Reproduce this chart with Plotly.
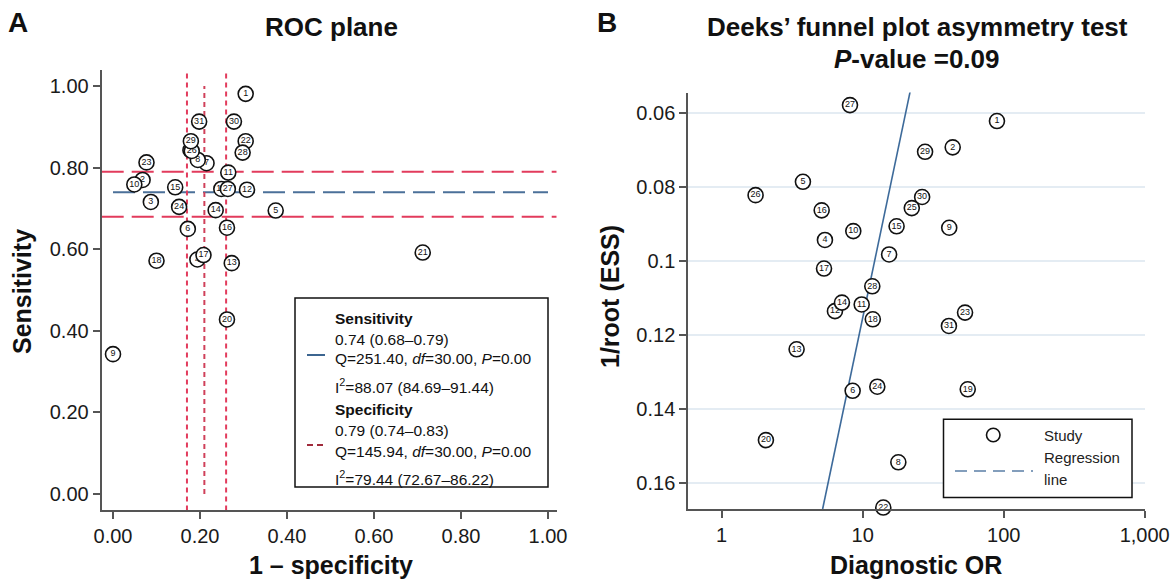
import math
import plotly.graph_objects as go

W, H = 1172, 579

# ---------------- Panel A: ROC plane ----------------
study_ids = list(range(1, 32))
one_minus_spec = [0.305, 0.068, 0.087, 0.194, 0.374, 0.172, 0.215, 0.195, 0.000, 0.049,
                  0.265, 0.308, 0.273, 0.236, 0.143, 0.262, 0.208, 0.100, 0.249, 0.262,
                  0.712, 0.305, 0.077, 0.152, 0.178, 0.181, 0.264, 0.298, 0.179, 0.278,
                  0.198]
sensitivity = [0.981, 0.770, 0.716, 0.575, 0.695, 0.650, 0.811, 0.819, 0.343, 0.759,
               0.788, 0.746, 0.566, 0.696, 0.752, 0.653, 0.586, 0.572, 0.748, 0.428,
               0.592, 0.865, 0.813, 0.704, 0.843, 0.841, 0.748, 0.837, 0.865, 0.913,
               0.913]
sens_pooled = [0.74, 0.68, 0.79]      # estimate, lower, upper
spec_pooled = [0.79, 0.74, 0.83]
roc_ticks = [0.0, 0.2, 0.4, 0.6, 0.8, 1.0]
roc_ticktext = ["0.00", "0.20", "0.40", "0.60", "0.80", "1.00"]

# ---------------- Panel B: Deeks' funnel ----------------
diag_or = [89.6, 43.5, 25.1, 5.40, 3.77, 8.49, 15.4, 17.9, 41.1, 8.58,
           9.84, 6.36, 3.40, 7.13, 17.4, 5.12, 5.32, 11.8, 55.6, 2.06,
           0.57, 14.0, 53.2, 12.7, 22.3, 1.74, 8.13, 11.7, 27.7, 26.4,
           40.9]
inv_root_ess = [0.0622, 0.0693, 0.0521, 0.0943, 0.0786, 0.1350, 0.0982, 0.1543, 0.0910, 0.0919,
                0.1117, 0.1135, 0.1238, 0.1112, 0.0906, 0.0863, 0.1020, 0.1157, 0.1346, 0.1483,
                0.1197, 0.1665, 0.1139, 0.1339, 0.0857, 0.0822, 0.0579, 0.1068, 0.0705, 0.0827,
                0.1175]
reg_or = [5.20, 21.8]
reg_ess = [0.1669, 0.0539]
funnel_xticks = [1, 10, 100, 1000]
funnel_xticktext = ["1", "10", "100", "1,000"]
funnel_yticks = [0.06, 0.08, 0.10, 0.12, 0.14, 0.16]
funnel_yticktext = ["0.06", "0.08", "0.1", "0.12", "0.14", "0.16"]

FONT = "Liberation Sans, Arial, Helvetica, sans-serif"
RED = "#e23b5c"
BLUE = "#4b7099"
AXC = "#555555"


def px(x):
    return x / W


def py(y):
    return 1 - y / H


# ranges / domains (pixels)
A_xr = [-0.026, 1.02]
A_yr = [-0.04, 1.04]
A_dx = [101.7, 556.7]
A_dy = [69.8, 510.4]
B_xr = [math.log10(0.58), 3.0]
B_yr = [0.1669, 0.0545]
B_dx = [688.3, 1144.7]
B_dy = [92.5, 509.0]

fig = go.Figure()

# reference lines panel A
for yv in (sens_pooled[2], sens_pooled[1]):
    fig.add_trace(go.Scatter(x=A_xr, y=[yv, yv], mode="lines", xaxis="x", yaxis="y",
                             line=dict(color=RED, width=2, dash="22px,8px"),
                             hoverinfo="skip", showlegend=False))
fig.add_trace(go.Scatter(x=[0, 1], y=[sens_pooled[0]] * 2, mode="lines", xaxis="x", yaxis="y",
                         line=dict(color=BLUE, width=2, dash="22px,8px"),
                         hoverinfo="skip", showlegend=False))
for xv in (1 - spec_pooled[2], 1 - spec_pooled[1]):
    fig.add_trace(go.Scatter(x=[xv, xv], y=A_yr, mode="lines", xaxis="x", yaxis="y",
                             line=dict(color=RED, width=2, dash="5px,4px"),
                             hoverinfo="skip", showlegend=False))
fig.add_trace(go.Scatter(x=[1 - spec_pooled[0]] * 2, y=[0, 1], mode="lines", xaxis="x", yaxis="y",
                         line=dict(color="#d0405a", width=2, dash="5px,4px"),
                         hoverinfo="skip", showlegend=False))

# study points panel A
for sid, xv, yv in zip(study_ids, one_minus_spec, sensitivity):
    fig.add_trace(go.Scatter(x=[xv], y=[yv], mode="markers+text", xaxis="x", yaxis="y",
                             text=[str(sid)], textposition="middle center",
                             textfont=dict(family=FONT, size=9, color="#111111"),
                             marker=dict(symbol="circle", size=15, color="white",
                                         line=dict(color="#111111", width=1.6)),
                             cliponaxis=False, hoverinfo="skip", showlegend=False))

# regression line panel B
fig.add_trace(go.Scatter(x=reg_or, y=reg_ess, mode="lines", xaxis="x2", yaxis="y2",
                         line=dict(color="#3d6a9a", width=1.6),
                         hoverinfo="skip", showlegend=False))
for sid, xv, yv in zip(study_ids, diag_or, inv_root_ess):
    fig.add_trace(go.Scatter(x=[xv], y=[yv], mode="markers+text", xaxis="x2", yaxis="y2",
                             text=[str(sid)], textposition="middle center",
                             textfont=dict(family=FONT, size=9, color="#111111"),
                             marker=dict(symbol="circle", size=15, color="white",
                                         line=dict(color="#111111", width=1.6)),
                             cliponaxis=False, hoverinfo="skip", showlegend=False))

axis_common = dict(showline=True, linecolor=AXC, linewidth=2, ticks="outside",
                   ticklen=7, tickwidth=2, tickcolor=AXC, zeroline=False,
                   tickfont=dict(family=FONT, size=20, color="#1a1a1a"))

fig.update_layout(
    width=W, height=H, autosize=False, margin=dict(l=0, r=0, t=0, b=0, autoexpand=False),
    paper_bgcolor="white", plot_bgcolor="white",
    xaxis=dict(domain=[px(A_dx[0]), px(A_dx[1])], range=A_xr, anchor="y",
               tickvals=roc_ticks, ticktext=roc_ticktext, showgrid=False, **axis_common),
    yaxis=dict(domain=[py(A_dy[1]), py(A_dy[0])], range=A_yr, anchor="x",
               tickvals=roc_ticks, ticktext=roc_ticktext, showgrid=False, **axis_common),
    xaxis2=dict(domain=[px(B_dx[0]), px(B_dx[1])], range=B_xr, type="log", anchor="y2",
                tickvals=funnel_xticks, ticktext=funnel_xticktext, showgrid=False, **axis_common),
    yaxis2=dict(domain=[py(B_dy[1]), py(B_dy[0])], range=B_yr, anchor="x2",
                tickvals=funnel_yticks, ticktext=funnel_yticktext, showgrid=True,
                gridcolor="#e4ecf3", gridwidth=2, **axis_common),
)

ann = []


def text(x, y, s, size, bold=False, anchor="center", angle=0, color="#111111"):
    ann.append(dict(x=px(x), y=py(y), xref="paper", yref="paper", showarrow=False,
                    text=("<b>%s</b>" % s) if bold else s, textangle=angle,
                    xanchor=anchor, yanchor="middle",
                    font=dict(family=FONT, size=size, color=color)))


# panel labels and titles
text(6, 23, "A", 28, bold=True, anchor="left")
text(595, 23, "B", 28, bold=True, anchor="left")
text(331, 27, "ROC plane", 26, bold=True)
text(917, 27, "Deeks’ funnel plot asymmetry test", 26, bold=True)
text(917, 59, "<i>P</i>-value =0.09", 26, bold=True)
# axis titles
text(331, 565, "1 – specificity", 25, bold=True)
text(916, 565, "Diagnostic OR", 25, bold=True)
text(22, 292, "Sensitivity", 25, bold=True, angle=-90)
text(610, 297, "1/root (ESS)", 25, bold=True, angle=-90)

# legend A
lx = 333
text(lx, 318, "Sensitivity", 15.5, bold=True, anchor="left")
text(lx, 339, "%.2f (%.2f–%.2f)" % tuple(sens_pooled), 15.5, anchor="left")
text(lx, 358, "Q=251.40, <i>df</i>=30.00, <i>P</i>=0.00", 15.5, anchor="left")
text(lx, 386, "I<sup>2</sup>=88.07 (84.69–91.44)", 15.5, anchor="left")
text(lx, 409, "Specificity", 15.5, bold=True, anchor="left")
text(lx, 430, "%.2f (%.2f–%.2f)" % tuple(spec_pooled), 15.5, anchor="left")
text(lx, 451, "Q=145.94, <i>df</i>=30.00, <i>P</i>=0.00", 15.5, anchor="left")
text(lx, 478, "I<sup>2</sup>=79.44 (72.67–86.22)", 15.5, anchor="left")

# legend B
text(1042, 435, "Study", 15, anchor="left", color="#222222")
text(1042, 457, "Regression", 15, anchor="left", color="#222222")
text(1042, 480, "line", 15, anchor="left", color="#222222")

fig.update_layout(annotations=ann)

shapes = [
    dict(type="rect", xref="paper", yref="paper", x0=px(295), x1=px(548), y0=py(487), y1=py(298),
         line=dict(color="#111111", width=1.5), fillcolor="white", layer="above"),
    dict(type="line", xref="paper", yref="paper", x0=px(307), x1=px(325), y0=py(355), y1=py(355),
         line=dict(color="#3c6590", width=2), layer="above"),
    dict(type="line", xref="paper", yref="paper", x0=px(307), x1=px(326), y0=py(445), y1=py(445),
         line=dict(color="#a02b3c", width=2, dash="6px,4px"), layer="above"),
    dict(type="rect", xref="paper", yref="paper", x0=px(943.5), x1=px(1132), y0=py(497.5), y1=py(419.3),
         line=dict(color="#111111", width=1.5), fillcolor="white", layer="above"),
    dict(type="circle", xref="paper", yref="paper", x0=px(986.5), x1=px(1000), y0=py(441.7), y1=py(428.3),
         line=dict(color="#111111", width=1.6), fillcolor="white", layer="above"),
    dict(type="line", xref="paper", yref="paper", x0=px(955), x1=px(1033), y0=py(471), y1=py(471),
         line=dict(color="#5b7fa6", width=1.6, dash="12px,7px"), layer="above"),
]
fig.update_layout(shapes=shapes)

fig.write_html("out.html",
               config={"responsive": False, "displayModeBar": False},
               post_script="document.body.style.margin='0';document.body.style.overflow='hidden';")
